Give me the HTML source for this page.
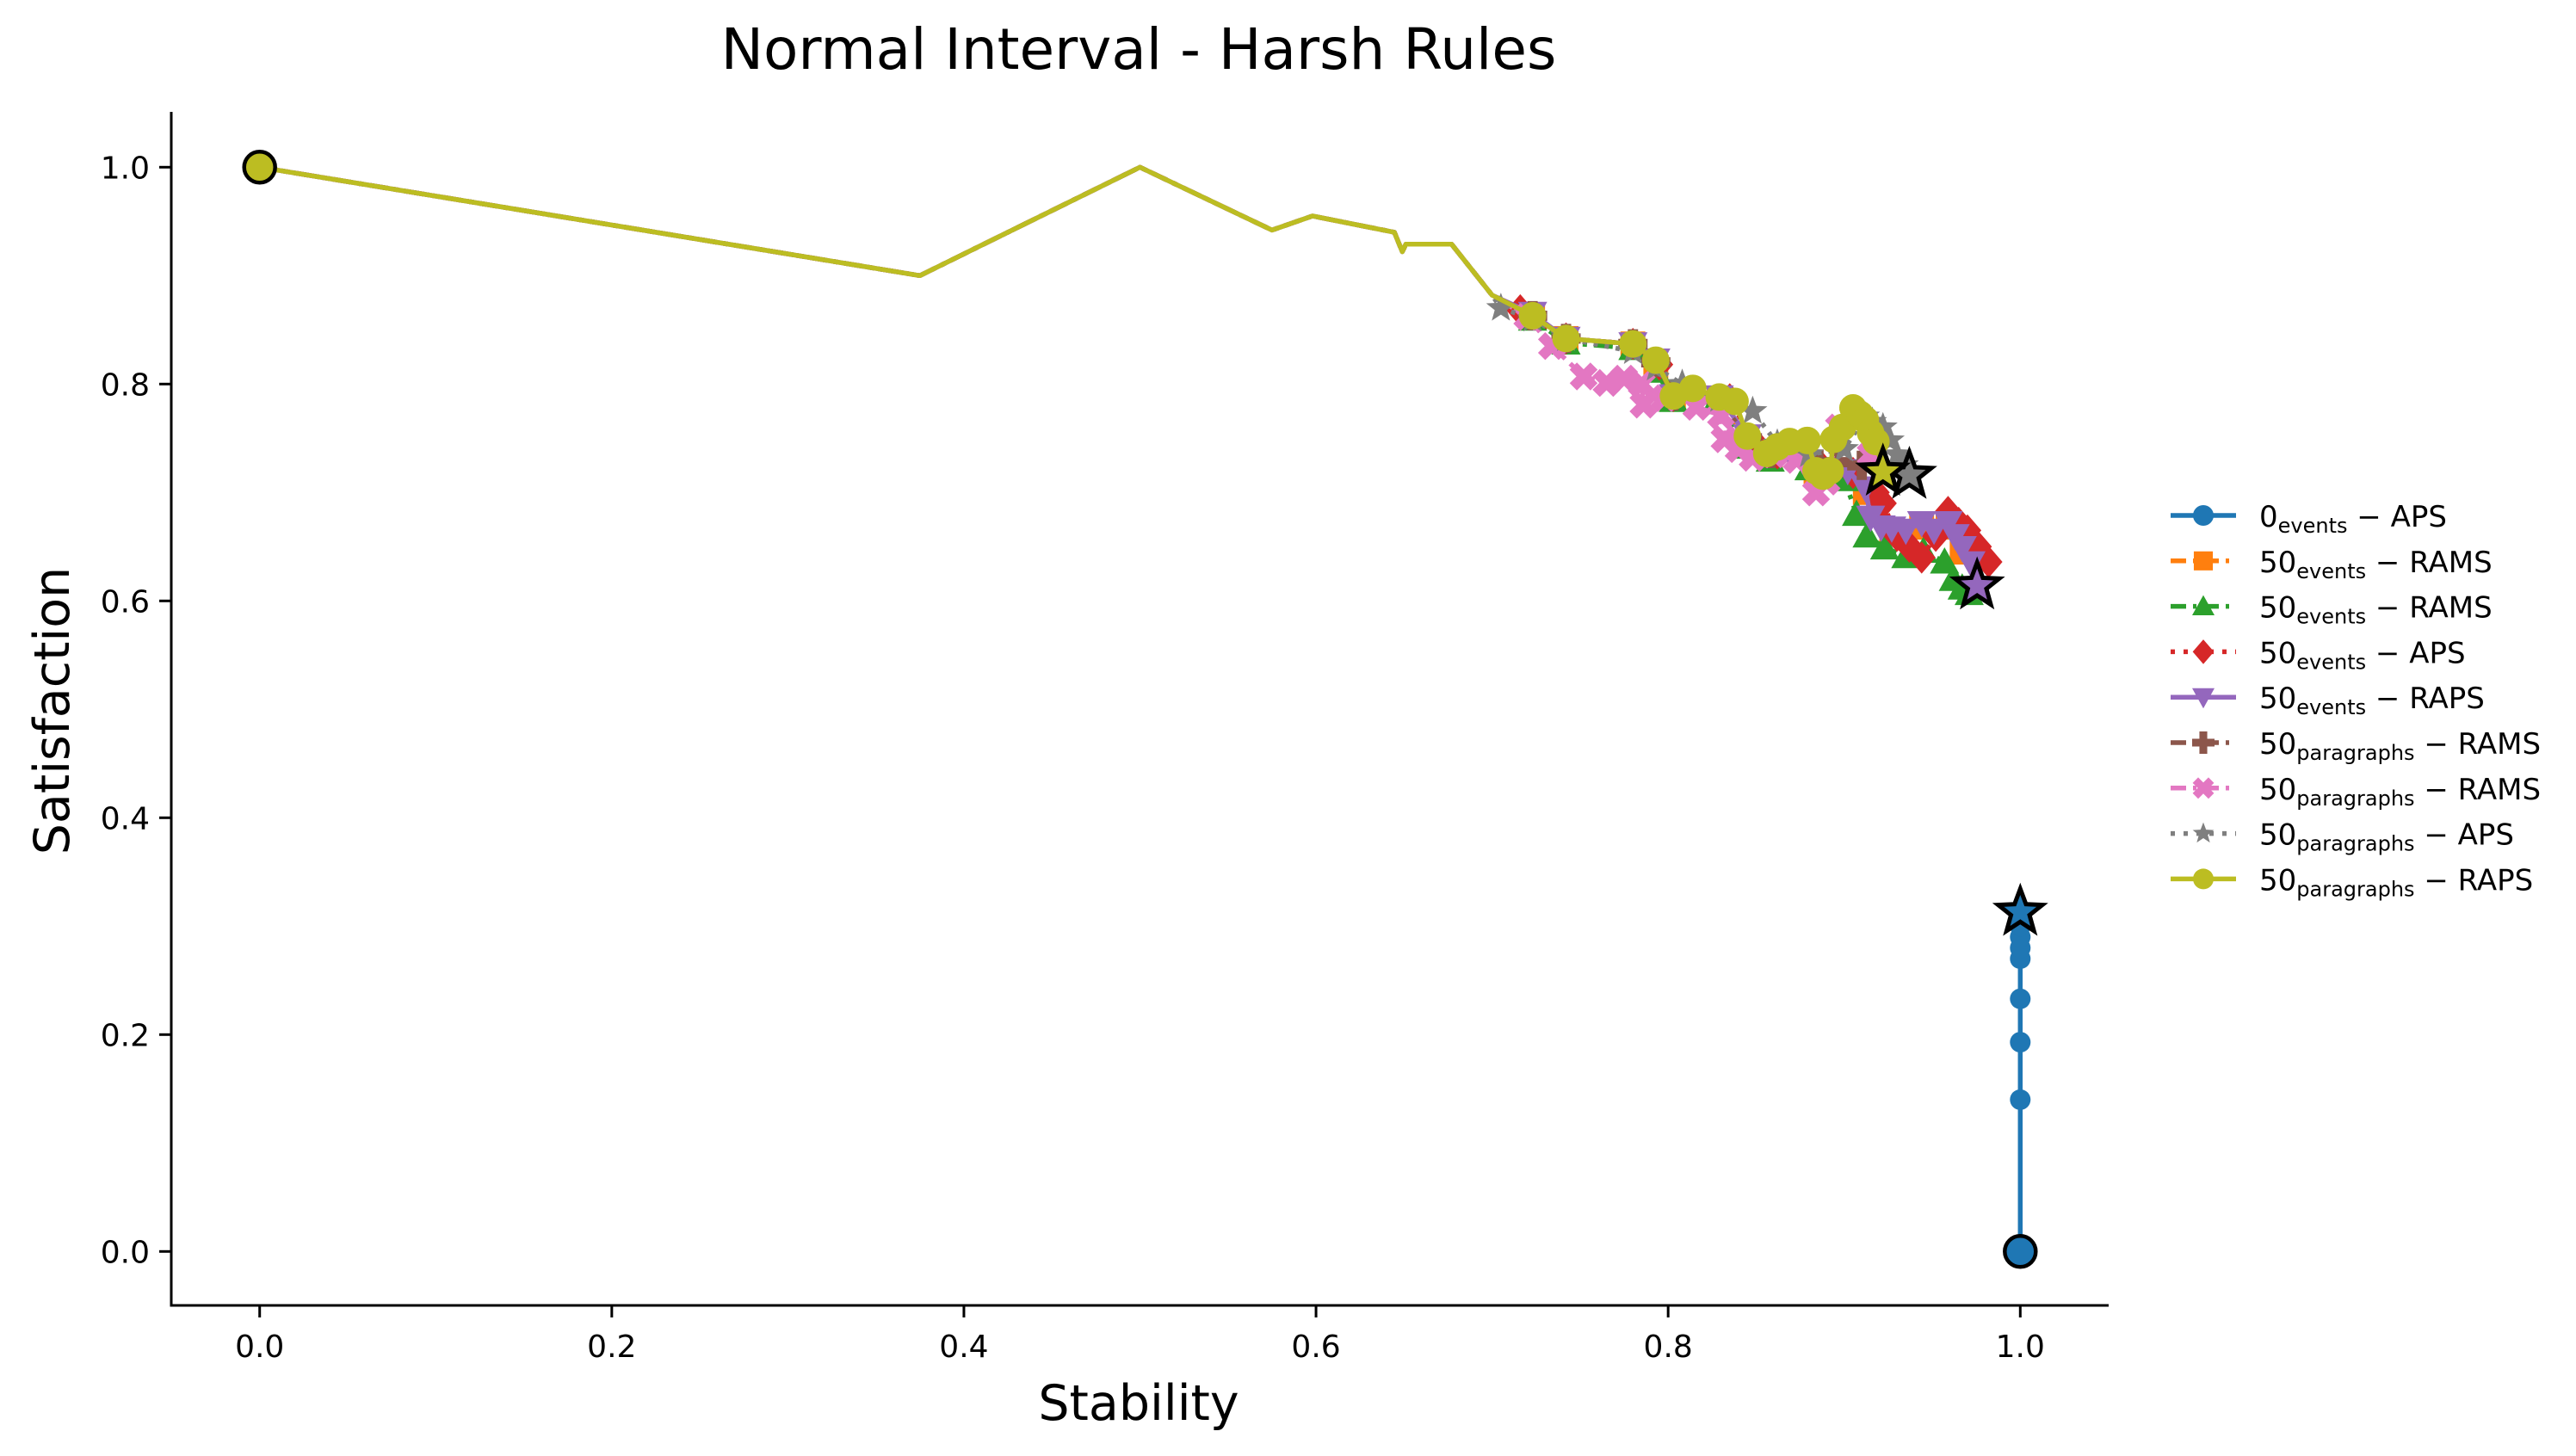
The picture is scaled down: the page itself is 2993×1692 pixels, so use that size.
<!DOCTYPE html>
<html><head><meta charset="utf-8">
<style>
body{margin:0;background:#fff;}
svg{display:block;font-family:"DejaVu Sans","Liberation Sans",sans-serif;}
</style></head>
<body>
<svg id="chart" width="2993" height="1692" viewBox="0 0 2993 1692" xmlns="http://www.w3.org/2000/svg">
<rect width="2993" height="1692" fill="#fff"/>
<text x="1323" y="80" font-size="66" text-anchor="middle" fill="#000">Normal Interval - Harsh Rules</text>
<g id="plot"></g>
<g id="axes"></g>
<text x="1323" y="1650" font-size="57" text-anchor="middle" fill="#000">Stability</text>
<text transform="translate(80,826) rotate(-90)" font-size="57" text-anchor="middle" fill="#000">Satisfaction</text>
<g id="legend"></g>
</svg>
<script>
const xTicks=[0,0.2,0.4,0.6,0.8,1.0];
const xTickLabels=["0.0","0.2","0.4","0.6","0.8","1.0"];
const yTicks=[0,0.2,0.4,0.6,0.8,1.0];
const yTickLabels=["0.0","0.2","0.4","0.6","0.8","1.0"];
const commonX=[0,0.375,0.5,0.575,0.598,0.6445,0.649,0.651,0.677,0.700];
const commonY=[1,0.9,1.0,0.942,0.955,0.940,0.922,0.929,0.929,0.882];
const blueX=[1,1,1,1,1,1,1,1,1];
const blueY=[0,0.14,0.193,0.233,0.27,0.28,0.29,0.30,0.313];
const orangeX=[0.723,0.742,0.780,0.793,0.803,0.829,0.845,0.858,0.884,0.902,0.912,0.927,0.944,0.959,0.967,0.9755];
const orangeY=[0.863,0.842,0.837,0.815,0.789,0.785,0.745,0.733,0.718,0.715,0.700,0.665,0.668,0.668,0.645,0.614];
const greenX=[0.723,0.742,0.780,0.793,0.803,0.827,0.845,0.858,0.880,0.900,0.907,0.913,0.923,0.935,0.945,0.957,0.962,0.967,0.971,0.9755];
const greenY=[0.860,0.838,0.833,0.812,0.785,0.783,0.742,0.730,0.722,0.712,0.680,0.660,0.649,0.641,0.646,0.636,0.620,0.612,0.607,0.614];
const redX=[0.716,0.742,0.780,0.795,0.803,0.835,0.848,0.862,0.888,0.905,0.918,0.922,0.930,0.937,0.944,0.952,0.959,0.965,0.970,0.976,0.982,0.9755];
const redY=[0.868,0.842,0.837,0.818,0.789,0.786,0.748,0.736,0.722,0.718,0.700,0.690,0.660,0.650,0.640,0.660,0.682,0.672,0.665,0.650,0.636,0.614];
const purpleX=[0.723,0.742,0.780,0.793,0.803,0.829,0.845,0.858,0.884,0.902,0.912,0.915,0.921,0.927,0.935,0.944,0.951,0.959,0.963,0.967,0.972,0.9755];
const purpleY=[0.865,0.842,0.837,0.822,0.789,0.788,0.752,0.736,0.720,0.720,0.704,0.677,0.668,0.667,0.665,0.672,0.665,0.672,0.660,0.649,0.635,0.614];
const brownX=[0.723,0.742,0.780,0.793,0.803,0.829,0.845,0.858,0.880,0.895,0.910,0.922];
const brownY=[0.863,0.842,0.837,0.820,0.789,0.786,0.750,0.736,0.735,0.728,0.725,0.719];
const pinkX=[0.720,0.734,0.752,0.765,0.775,0.785,0.786,0.798,0.816,0.830,0.832,0.840,0.848,0.860,0.873,0.884,0.890,0.897,0.905,0.915,0.922];
const pinkY=[0.862,0.835,0.807,0.801,0.805,0.800,0.781,0.787,0.779,0.771,0.749,0.740,0.732,0.735,0.730,0.700,0.710,0.760,0.770,0.735,0.719];
const grayX=[0.705,0.723,0.742,0.780,0.793,0.808,0.829,0.848,0.862,0.880,0.900,0.912,0.916,0.922,0.926,0.930,0.934,0.937];
const grayY=[0.870,0.860,0.842,0.830,0.815,0.800,0.786,0.775,0.745,0.735,0.740,0.770,0.765,0.760,0.748,0.735,0.725,0.716];
const oliveX=[0.723,0.742,0.780,0.793,0.803,0.814,0.829,0.838,0.845,0.856,0.862,0.869,0.879,0.884,0.888,0.892,0.894,0.899,0.905,0.909,0.912,0.915,0.918,0.922];
const oliveY=[0.863,0.842,0.837,0.822,0.789,0.796,0.788,0.784,0.752,0.736,0.742,0.747,0.748,0.720,0.715,0.720,0.749,0.760,0.778,0.772,0.767,0.755,0.747,0.719];

const X0=301.7,XS=2045.6,Y0=1454.3,YS=1260;
const sx=v=>X0+v*XS, sy=v=>Y0-v*YS;
const NS="http://www.w3.org/2000/svg";
const plot=document.getElementById('plot'), axes=document.getElementById('axes'), legend=document.getElementById('legend');
function mk(tag,attrs,parent){const e=document.createElementNS(NS,tag);for(const k in attrs)e.setAttribute(k,attrs[k]);parent.appendChild(e);return e;}

function markerShape(type,cx,cy,r,fill,stroke,sw,parent){
  let e;
  if(type==='o'){e=mk('circle',{cx:cx,cy:cy,r:r,fill:fill},parent);}
  else if(type==='s'){e=mk('rect',{x:cx-r*0.85,y:cy-r*0.85,width:r*1.7,height:r*1.7,fill:fill},parent);}
  else if(type==='^'){e=mk('polygon',{points:`${cx},${cy-r} ${cx+r},${cy+r*0.8} ${cx-r},${cy+r*0.8}`,fill:fill},parent);}
  else if(type==='v'){e=mk('polygon',{points:`${cx},${cy+r} ${cx+r},${cy-r*0.8} ${cx-r},${cy-r*0.8}`,fill:fill},parent);}
  else if(type==='D'){e=mk('polygon',{points:`${cx},${cy-r*1.1} ${cx+r*0.95},${cy} ${cx},${cy+r*1.1} ${cx-r*0.95},${cy}`,fill:fill},parent);}
  else if(type==='P'){const a=r*0.35;e=mk('polygon',{points:`${cx-a},${cy-r} ${cx+a},${cy-r} ${cx+a},${cy-a} ${cx+r},${cy-a} ${cx+r},${cy+a} ${cx+a},${cy+a} ${cx+a},${cy+r} ${cx-a},${cy+r} ${cx-a},${cy+a} ${cx-r},${cy+a} ${cx-r},${cy-a} ${cx-a},${cy-a}`,fill:fill},parent);}
  else if(type==='X'){const a=r*0.35;let p=[];const base=[[-a,-r],[a,-r],[a,-a],[r,-a],[r,a],[a,a],[a,r],[-a,r],[-a,a],[-r,a],[-r,-a],[-a,-a]];base.forEach(([u,v])=>{const c=Math.SQRT1_2;p.push(`${cx+(u-v)*c},${cy+(u+v)*c}`);});e=mk('polygon',{points:p.join(' '),fill:fill},parent);}
  else if(type==='*'){let p=[];for(let i=0;i<10;i++){const ang=-Math.PI/2+i*Math.PI/5;const rr=i%2?r*0.42:r;p.push(`${cx+rr*Math.cos(ang)},${cy+rr*Math.sin(ang)}`);}e=mk('polygon',{points:p.join(' '),fill:fill},parent);}
  if(stroke){e.setAttribute('stroke',stroke);e.setAttribute('stroke-width',sw);e.setAttribute('stroke-linejoin','miter');}
  return e;
}

const series=[
 {name:'blue-0events-aps',color:'#1f77b4',dash:'',m:'o',x:blueX,y:blueY,common:false,start:'o'},
 {name:'orange-50events-rams',color:'#ff7f0e',dash:'22 8 5 8',m:'s',x:orangeX,y:orangeY,common:true},
 {name:'green-50events-rams',color:'#2ca02c',dash:'22 8 5 8',m:'^',x:greenX,y:greenY,common:true},
 {name:'red-50events-aps',color:'#d62728',dash:'5 8',m:'D',x:redX,y:redY,common:true},
 {name:'purple-50events-raps',color:'#9467bd',dash:'',m:'v',x:purpleX,y:purpleY,common:true},
 {name:'brown-50paragraphs-rams',color:'#8c564b',dash:'22 8 5 8',m:'P',x:brownX,y:brownY,common:true},
 {name:'pink-50paragraphs-rams',color:'#e377c2',dash:'22 8 5 8',m:'X',x:pinkX,y:pinkY,common:true},
 {name:'gray-50paragraphs-aps',color:'#7f7f7f',dash:'5 8',m:'*',x:grayX,y:grayY,common:true},
 {name:'olive-50paragraphs-raps',color:'#bcbd22',dash:'',m:'o',x:oliveX,y:oliveY,common:true,start:'o'}
];

series.forEach(s=>{
  const g=mk('g',{},plot);
  
  
  const xs=s.common?commonX.concat(s.x):s.x, ys=s.common?commonY.concat(s.y):s.y;
  const pts=xs.map((v,i)=>sx(v)+','+sy(ys[i])).join(' ');
  const line=mk('polyline',{points:pts,fill:'none',stroke:s.color,'stroke-width':5.5,'stroke-linejoin':'round'},g);
  if(s.dash)line.setAttribute('stroke-dasharray',s.dash);
  
  
  const n=s.x.length;
  const isBlue=s.name.startsWith('blue');
  for(let i=0;i<n-1;i++){
    if(isBlue&&i===0)continue;
    const r=isBlue?12:(s.m==='o'?16:(s.m==='*'?18:17));
    const mEl=markerShape(s.m,sx(s.x[i]),sy(s.y[i]),r,s.color,null,0,g);
    
    
  }
  if(s.name.startsWith('olive')||s.name.startsWith('gray')||s.name.startsWith('purple')||isBlue){
    const st=markerShape('*',sx(s.x[n-1]),sy(s.y[n-1]),27,s.color,'#000',5,g);
    
    
  }
  if(s.start){
    const sx0=s.common?commonX[0]:s.x[0], sy0=s.common?commonY[0]:s.y[0];
    const c=markerShape('o',sx(sx0),sy(sy0),18,s.color,'#000',4.5,g);
    
    
  }
});

// axes
const ls=mk('line',{x1:199,y1:130,x2:199,y2:1517,stroke:'#000','stroke-width':3},axes);


const bs=mk('line',{x1:197.5,y1:1517,x2:2450,y2:1517,stroke:'#000','stroke-width':3},axes);


xTicks.forEach((v,i)=>{
  const t=mk('line',{x1:sx(v),y1:1517,x2:sx(v),y2:1531,stroke:'#000','stroke-width':3},axes);
  
  
  const l=mk('text',{x:sx(v),y:1577,'font-size':36,'text-anchor':'middle',fill:'#000'},axes);
  l.textContent=xTickLabels[i];
  
  
});
yTicks.forEach((v,i)=>{
  const t=mk('line',{x1:185,y1:sy(v),x2:199,y2:sy(v),stroke:'#000','stroke-width':3},axes);
  
  
  const l=mk('text',{x:174,y:sy(v)+13,'font-size':36,'text-anchor':'end',fill:'#000'},axes);
  l.textContent=yTickLabels[i];
  
  
});

// legend
const legNum=["0","50","50","50","50","50","50","50","50"];
const legSub=["events","events","events","events","events","paragraphs","paragraphs","paragraphs","paragraphs"];
const legMethod=["APS","RAMS","RAMS","APS","RAPS","RAMS","RAMS","APS","RAPS"];
series.forEach((s,i)=>{
  const y=599+i*52.8;
  const g=mk('g',{},legend);
  
  
  const ln=mk('line',{x1:2522,y1:y,x2:2598,y2:y,stroke:s.color,'stroke-width':5.5},g);
  if(s.dash)ln.setAttribute('stroke-dasharray',s.dash==='5 8'?'5 10':'18 8 4 8');
  markerShape(s.m,2560,y,s.m==='o'?12:13,s.color,null,0,g);
  const t=mk('text',{x:2625,y:y+13,'font-size':34,fill:'#000'},g);
  t.innerHTML=legNum[i]+'<tspan font-size="24" dy="7">'+legSub[i]+'</tspan><tspan dy="-7"> − '+legMethod[i]+'</tspan>';
});
</script>
</body></html>
